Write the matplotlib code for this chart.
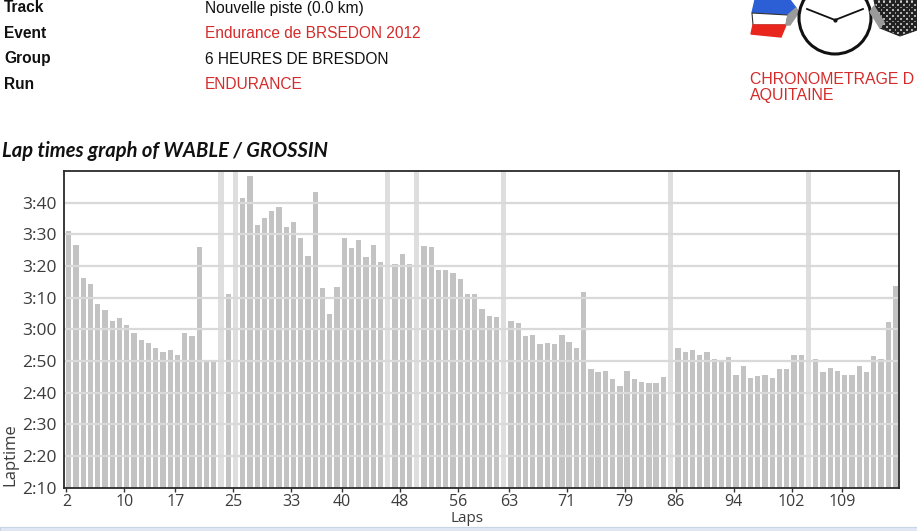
import matplotlib
matplotlib.use("Agg")
import matplotlib.pyplot as plt
from matplotlib.patches import Circle, Polygon, Rectangle

W, H = 917, 531
RED = "#d42b2b"

# ---- data: lap times in seconds (None = pit lap, drawn separately)
laps = list(range(2, 117))
lap_times = [
    211.0, 206.5, 196.1, 194.3, 187.9, 186.1, 182.5, 183.4, 181.2, 178.8,   # 2-11
    176.6, 175.7, 174.2, 172.8, 173.3, 172.0, 178.8, 178.0, 206.1, 170.0,   # 12-21
    170.0, None, 191.1, None, 221.4, 228.3, 212.8, 215.2, 217.5, 218.7,     # 22-31
    212.4, 213.8, 208.7, 203.3, 223.4, 192.9, 184.7, 193.4, 208.7, 205.6,   # 32-41
    208.3, 202.7, 206.5, 201.1, None, 200.5, 203.8, 200.5, None, 206.4,     # 42-51
    206.1, 198.8, 198.8, 197.9, 196.0, 191.1, 191.1, 186.4, 184.3, 183.8,   # 52-61
    None, 182.5, 182.0, 177.9, 178.3, 175.3, 175.7, 175.3, 178.3, 176.1,    # 62-71
    174.2, 191.9, 167.4, 166.5, 166.9, 164.3, 162.0, 166.9, 164.3, 163.4,   # 72-81
    162.9, 162.9, 164.8, None, 174.2, 172.8, 173.4, 172.0, 172.8, 170.6,    # 82-91
    170.0, 171.1, 165.7, 168.3, 164.7, 165.2, 165.7, 164.7, 167.4, 167.4,   # 92-101
    172.0, 172.0, None, 170.6, 166.5, 167.9, 166.9, 165.6, 165.6, 168.3,    # 102-111
    166.5, 171.5, 170.6, 182.4, 193.8,                                      # 112-116
]
pit_laps = [23, 25, 46, 50, 62, 85, 104]
pit_times = [285, 292, 280, 288, 283, 290, 286]  # off the top of the scale
x_ticks = [2, 10, 17, 25, 33, 40, 48, 56, 63, 71, 79, 86, 94, 102, 109]
y_ticks = [130, 140, 150, 160, 170, 180, 190, 200, 210, 220]

header_labels = ["Track", "Event", "Group", "Run"]
header_values = ["Nouvelle piste (0.0 km)", "Endurance de BRSEDON 2012",
                 "6 HEURES DE BRESDON", "ENDURANCE"]
header_colors = ["#111111", RED, "#111111", RED]

fig = plt.figure(figsize=(W / 100, H / 100), dpi=100)

# ---- lap time bar chart
ax = fig.add_axes([64 / W, 1 - 487.5 / H, (899 - 64) / W, (487.5 - 171) / H])
reg_x = [l for l, t in zip(laps, lap_times) if t is not None]
reg_y = [t for t in lap_times if t is not None]
ax.bar(reg_x, reg_y, width=0.73, align="edge", color="#c3c3c3", zorder=1)
ax.bar(pit_laps, pit_times, width=0.73, align="edge", color="#dedede", zorder=1)
ax.set_ylim(130, 230)
ax.set_xlim(1.72, 116.85)
ax.set_yticks(y_ticks)
ax.set_yticklabels([f"{t // 60}:{t % 60:02d}" for t in y_ticks])
ax.set_xticks([t + 0.05 for t in x_ticks])
ax.set_xticklabels([str(t) for t in x_ticks])
for t in y_ticks[1:]:
    ax.axhline(t, color="#d9d9d9", lw=1.6, zorder=2)
ax.tick_params(axis="x", length=3, width=1, color="#333333", pad=2,
               labelsize=11.5, labelcolor="#3c3c3c")
ax.tick_params(axis="y", length=0, pad=5, labelsize=12.5, labelcolor="#3c3c3c")
for lab in ax.get_xticklabels() + ax.get_yticklabels():
    lab.set_fontfamily("Open Sans")
for s in ax.spines.values():
    s.set_color("#2a2a2a")
    s.set_linewidth(1.3)
    s.set_zorder(3)

fig.text(467 / W, 1 - 519 / H, "Laps", ha="center", va="center",
         fontsize=11, color="#3c3c3c", family="Open Sans")
fig.text(10 / W, 1 - 455 / H, "Laptime", ha="center", va="center",
         rotation=90, fontsize=12, color="#3c3c3c", family="Open Sans")
fig.text(2 / W, 1 - 157 / H, "Lap times graph of WABLE / GROSSIN",
         ha="left", va="baseline", fontsize=14.5, fontweight="bold",
         fontstyle="italic", family="Lato", color="#111111")

# ---- page header
for i, (lab, val, col) in enumerate(zip(header_labels, header_values, header_colors)):
    yb = 1 - (12.5 + 25.5 * i) / H
    fig.text(4 / W, yb, lab, ha="left", va="baseline", fontsize=11.2,
             fontweight="bold", family="Liberation Sans", color="#111111")
    fig.text(205 / W, yb, val, ha="left", va="baseline", fontsize=11.2,
             family="Liberation Sans", color=col)

fig.text(750 / W, 1 - 84.5 / H, "CHRONOMETRAGE D", ha="left", va="baseline",
         fontsize=11.4, family="Liberation Sans", color=RED)
fig.text(750 / W, 1 - 99.5 / H, "AQUITAINE", ha="left", va="baseline",
         fontsize=11.4, family="Liberation Sans", color=RED)

# ---- logo and page decoration, drawn in pixel coordinates
deco = fig.add_axes([0, 0, 1, 1], zorder=-1)
deco.set_xlim(0, W)
deco.set_ylim(H, 0)
deco.axis("off")
deco.add_patch(Polygon([[755, 0], [790, 0], [796, 8], [788, 15], [752, 13]],
                       closed=True, color="#2c5fd6"))
deco.add_patch(Polygon([[752, 13], [788, 15], [786, 25], [753, 25]],
                       closed=True, facecolor="white", edgecolor="#333333", lw=0.8))
deco.add_patch(Polygon([[753, 25], [786, 25], [781, 37], [751, 34]],
                       closed=True, color="#e8261e"))
deco.add_patch(Polygon([[788, 15], [796, 8], [799, 12], [790, 25], [786, 25]],
                       closed=True, color="#9a9a9a"))
deco.add_patch(Circle((835, 18), 36, facecolor="white", edgecolor="#111111", lw=2.2))
deco.plot([835, 807], [20, 9], color="#111111", lw=1.3)
deco.plot([835, 863], [20, 9], color="#111111", lw=1.3)
deco.plot([835], [20], "o", color="#111111", ms=2)
flag = Polygon([[874, 0], [917, 0], [917, 30], [900, 36], [880, 28]],
               closed=True, facecolor="white", edgecolor="#333333", lw=0.8)
deco.add_patch(flag)
for i in range(0, 16):
    for j in range(0, 13):
        if (i + j) % 2 == 0:
            sq = Rectangle((874 + i * 2.8, j * 2.8), 2.8, 2.8, color="#222222")
            sq.set_clip_path(flag)
            deco.add_patch(sq)
deco.add_patch(Polygon([[870, 12], [880, 28], [884, 22], [874, 6]],
                       closed=True, color="#9a9a9a"))
deco.add_patch(Rectangle((0, 527), W, 4, facecolor="#dfe8f3",
                         edgecolor="#c8d5e6", lw=0.8))

fig.savefig("out.png", dpi=100)
